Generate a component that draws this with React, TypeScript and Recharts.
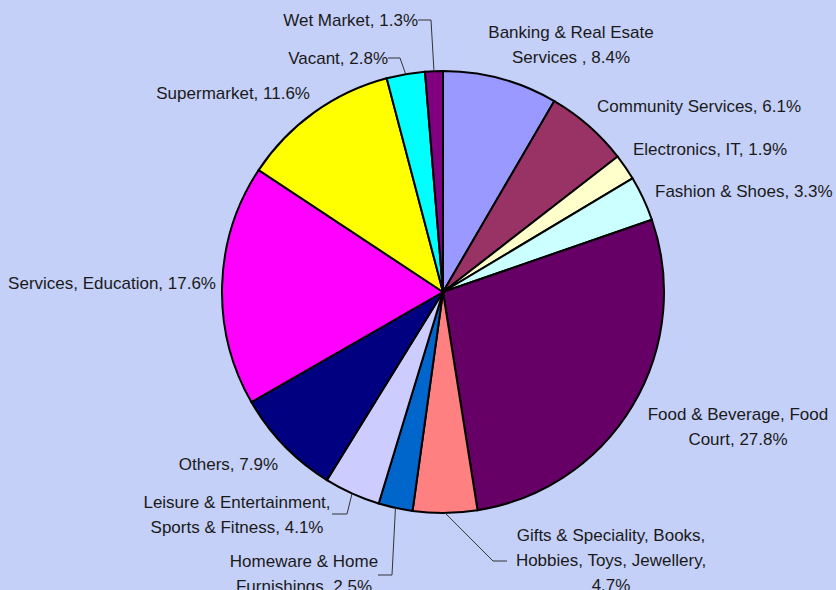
import React from 'react';
import { PieChart, Pie, Cell } from 'recharts';

// tenant mix, clockwise from 12 o'clock
const categories = [
  'Banking & Real Esate Services ',
  'Community Services',
  'Electronics, IT',
  'Fashion & Shoes',
  'Food & Beverage, Food Court',
  'Gifts & Speciality, Books, Hobbies, Toys, Jewellery',
  'Homeware & Home Furnishings',
  'Leisure & Entertainment, Sports & Fitness',
  'Others',
  'Services, Education',
  'Supermarket',
  'Vacant',
  'Wet Market',
];
const shares = [8.4, 6.1, 1.9, 3.3, 27.8, 4.7, 2.5, 4.1, 7.9, 17.6, 11.6, 2.8, 1.3];
const labelLines = [
  ['Banking & Real Esate', 'Services , 8.4%'],
  ['Community Services, 6.1%'],
  ['Electronics, IT, 1.9%'],
  ['Fashion & Shoes, 3.3%'],
  ['Food & Beverage, Food', 'Court, 27.8%'],
  ['Gifts & Speciality, Books,', 'Hobbies, Toys, Jewellery,', '4.7%'],
  ['Homeware & Home', 'Furnishings, 2.5%'],
  ['Leisure & Entertainment,', 'Sports & Fitness, 4.1%'],
  ['Others, 7.9%'],
  ['Services, Education, 17.6%'],
  ['Supermarket, 11.6%'],
  ['Vacant, 2.8%'],
  ['Wet Market, 1.3%'],
];

const colors = [
  '#9999FF', '#993366', '#FFFFCC', '#CCFFFF', '#660066', '#FF8080', '#0066CC',
  '#CCCCFF', '#000080', '#FF00FF', '#FFFF00', '#00FFFF', '#800080',
];

// where each label sits (text x / first line y), plus optional leader elbow + end
type LabelPos = { x: number; y: number; anchor: 'start' | 'middle' | 'end'; elbow?: [number, number]; end?: [number, number] };
const labelPos: LabelPos[] = [
  { x: 571, y: 32, anchor: 'middle' },
  { x: 597, y: 106, anchor: 'start' },
  { x: 633, y: 149, anchor: 'start' },
  { x: 655, y: 191, anchor: 'start' },
  { x: 738, y: 414, anchor: 'middle' },
  { x: 611, y: 535, anchor: 'middle', elbow: [493, 561], end: [507, 561] },
  { x: 304, y: 561, anchor: 'middle', elbow: [392, 575], end: [378, 575] },
  { x: 237, y: 502, anchor: 'middle', elbow: [347, 514], end: [332, 514] },
  { x: 278, y: 464, anchor: 'end' },
  { x: 216, y: 283, anchor: 'end' },
  { x: 310, y: 93, anchor: 'end' },
  { x: 388, y: 58, anchor: 'end', elbow: [400, 58], end: [388, 58] },
  { x: 418, y: 20, anchor: 'end', elbow: [431, 20], end: [418, 20] },
];

const data = categories.map((name, i) => ({ name, value: shares[i] }));

const RADIAN = Math.PI / 180;
const LINE_H = 25;

const renderLabel = (props: any) => {
  const { cx, cy, midAngle, outerRadius, index } = props;
  const pos = labelPos[index];
  const lines = labelLines[index];
  const ex = cx + outerRadius * Math.cos(-midAngle * RADIAN);
  const ey = cy + outerRadius * Math.sin(-midAngle * RADIAN);
  return (
    <g key={`lbl-${index}`}>
      {pos.elbow && pos.end && (
        <polyline
          points={`${ex},${ey} ${pos.elbow[0]},${pos.elbow[1]} ${pos.end[0]},${pos.end[1]}`}
          fill="none"
          stroke="#333"
          strokeWidth={1}
        />
      )}
      <text
        x={pos.x}
        y={pos.y}
        textAnchor={pos.anchor}
        dominantBaseline="central"
        fontFamily="'Liberation Sans', Arial, sans-serif"
        fontSize={17}
        fill="#1a1a1a"
      >
        {lines.map((l, j) => (
          <tspan key={j} x={pos.x} y={pos.y + j * LINE_H}>
            {l}
          </tspan>
        ))}
      </text>
    </g>
  );
};

export default function App() {
  return (
    <div style={{ width: 836, height: 590, background: '#C5D0F8', overflow: 'hidden' }}>
      <style>{`body{margin:0}`}</style>
      <PieChart width={836} height={590} margin={{ top: 0, right: 0, bottom: 0, left: 0 }}>
        <Pie
          data={data}
          dataKey="value"
          nameKey="name"
          cx={443}
          cy={292}
          outerRadius={221}
          startAngle={90}
          endAngle={-270}
          stroke="#000"
          strokeWidth={2}
          label={renderLabel}
          labelLine={false}
          isAnimationActive={false}
        >
          {data.map((d, i) => (
            <Cell key={d.name} fill={colors[i]} />
          ))}
        </Pie>
      </PieChart>
    </div>
  );
}
